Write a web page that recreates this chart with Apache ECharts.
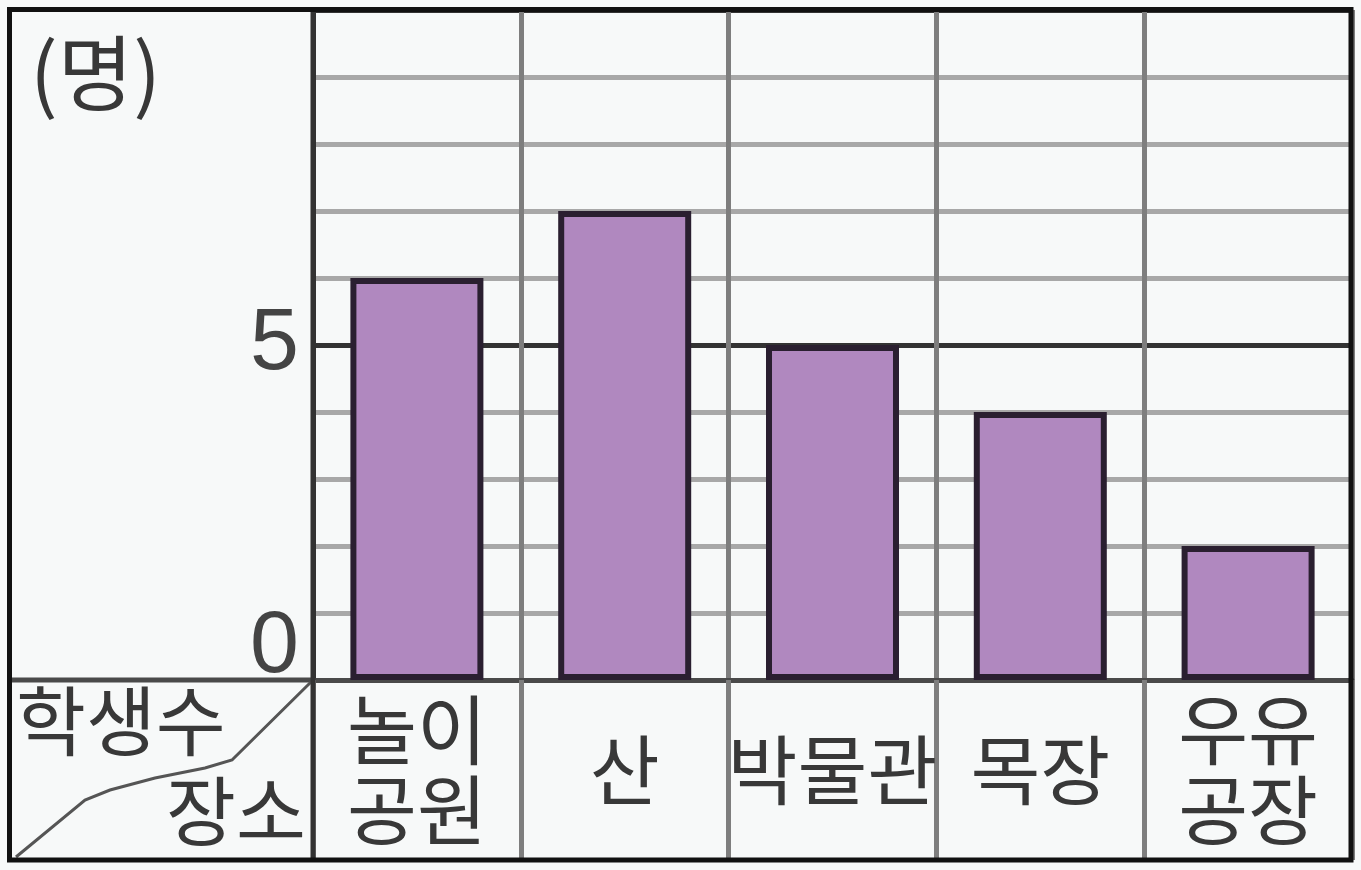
<!DOCTYPE html>
<html><head><meta charset="utf-8">
<script src="https://cdn.jsdelivr.net/npm/echarts@6/dist/echarts.min.js"></script>
<style>html,body{margin:0;padding:0;background:#f7f9f9}#c{width:1361px;height:870px}</style>
</head><body><div id="c"></div>
<script>
// ---- data ----
const categories = ['놀이\n공원', '산', '박물관', '목장', '우유\n공장'];
const students = [6, 7, 5, 4, 2];
const yShownTicks = [0, 5];
const unitLabel = '(명)';
const rowHeader = '학생수';
const colHeader = '장소';

const KR = '"Noto Sans CJK KR", "Noto Sans", sans-serif';
const TXT = '#383838';

const chart = echarts.init(document.getElementById('c'), null, {renderer: 'canvas'});
chart.setOption({
  backgroundColor: '#f7f9f9',
  animation: false,
  grid: {left: 313, right: 9, top: 10, bottom: 190, containLabel: false},
  xAxis: {
    type: 'category',
    data: categories,
    boundaryGap: true,
    axisLine: {show: true, lineStyle: {color: '#4a4a4a', width: 5}},
    axisTick: {show: true, interval: 0, length: 180, lineStyle: {color: '#7e7e7e', width: 5}},
    splitLine: {show: true, interval: 0, lineStyle: {color: '#7e7e7e', width: 5}},
    axisLabel: {interval: 0, margin: 90, verticalAlign: 'middle', fontSize: 76, lineHeight: 80,
      color: TXT, fontFamily: KR}
  },
  yAxis: [{
    type: 'value', min: 0, max: 10, interval: 1, position: 'left',
    axisLabel: {show: false},
    axisLine: {show: true, lineStyle: {color: '#333', width: 5}},
    axisTick: {show: false},
    splitLine: {show: true, lineStyle: {color: '#a8a8a8', width: 5}}
  }, {
    type: 'value', min: 0, max: 10, interval: 5, position: 'left', offset: 0,
    axisLine: {show: false},
    axisTick: {show: false},
    splitLine: {show: true, lineStyle: {color: '#333', width: 5}},
    axisLabel: {
      margin: 14,
      formatter: v => yShownTicks.indexOf(v) < 0 ? '' : (v === 0 ? '{z|' + v + '}' : '{a|' + v + '}'),
      rich: {
        a: {fontSize: 88, fontFamily: '"Liberation Sans", sans-serif', color: '#444'},
        z: {fontSize: 88, fontFamily: '"Liberation Sans", sans-serif', color: '#444', padding: [0, 0, 64, 0]}
      }
    }
  }],
  series: [{
    type: 'bar',
    yAxisIndex: 0,
    data: students,
    barWidth: '64%',
    itemStyle: {color: '#b088bf', borderColor: '#2a1f30', borderWidth: 6},
    z: 3
  }],
  graphic: [
    {type: 'line', z: 50, shape: {x1: 9, y1: 680, x2: 313, y2: 680}, style: {stroke: '#4a4a4a', lineWidth: 5}},
    {type: 'line', z: 51, shape: {x1: 313, y1: 9, x2: 313, y2: 860}, style: {stroke: '#333', lineWidth: 5}},
    {type: 'polyline', z: 50, shape: {points: [[311, 682], [232, 760], [205, 768], [155, 778], [110, 790], [85, 800], [16, 857]]},
      style: {stroke: '#555', lineWidth: 3, fill: null}},
    {type: 'text', z: 52, left: 30, top: 32, style: {text: unitLabel, fontSize: 82, fontFamily: KR, fill: TXT}},
    {type: 'text', z: 52, left: 16, top: 683, style: {text: rowHeader, fontSize: 76, fontFamily: KR, fill: TXT}},
    {type: 'text', z: 52, left: 166, top: 773, style: {text: colHeader, fontSize: 76, fontFamily: KR, fill: TXT}},
    {type: 'rect', z: 100, shape: {x: 9.5, y: 9.5, width: 1341.5, height: 850.5},
      style: {stroke: '#111', lineWidth: 5, fill: null}}
  ]
});
</script></body></html>
